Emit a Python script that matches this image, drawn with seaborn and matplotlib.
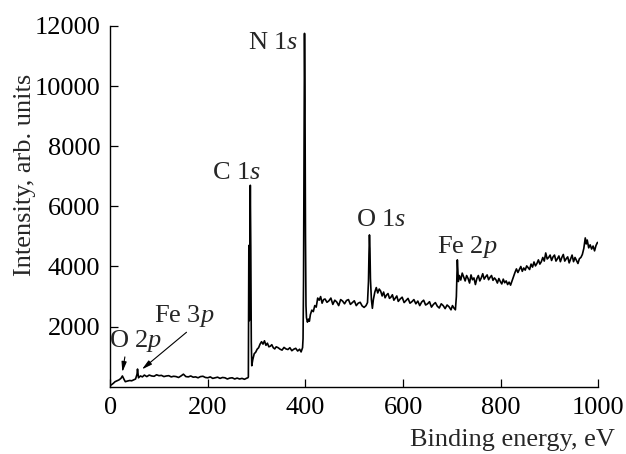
import numpy as np
import pandas as pd
import matplotlib
matplotlib.use("Agg")
import matplotlib.pyplot as plt
import seaborn as sns

# ---- survey XPS spectrum ----
# low binding energy part (valence, Fe 3p, up to the C 1s edge)
be_low = [2, 6, 10, 14, 18, 22, 25, 28, 31, 35, 40, 44, 48, 52, 55, 56, 58, 62, 66, 70,
          75, 80, 85, 90, 95, 100, 105, 110, 115, 120, 125, 130, 135, 140, 145, 150, 155,
          160, 165, 170, 175, 180, 185, 190, 195, 200, 205, 210, 215, 220, 225, 230, 235,
          240, 245, 250, 255, 260, 265, 270, 275, 280, 282]
int_low = [60, 110, 170, 200, 230, 280, 360, 260, 170, 190, 210, 200, 230, 260, 420, 590, 300, 360, 330, 390,
           340, 390, 360, 350, 400, 370, 380, 340, 360, 370, 330, 350, 340, 310, 360, 420, 340,
           330, 360, 320, 330, 300, 340, 350, 310, 300, 330, 280, 300, 320, 280, 310, 300,
           260, 290, 300, 260, 290, 260, 280, 250, 290, 300]

# C 1s and N 1s region
be_mid = [283, 284, 285, 286, 287, 288, 289, 290, 292, 295, 298, 301, 304, 307, 310, 313, 316, 319,
          322, 325, 328, 331, 334, 337, 340, 344, 348, 352, 356, 360, 364, 368, 372, 376, 380,
          384, 388, 391, 394, 395, 396, 397, 398, 399, 400, 401, 402, 404, 406, 408, 410, 413,
          416, 419, 422, 425, 428, 431, 434, 437, 440, 444, 448, 452, 456, 460, 464, 468, 472,
          476, 480, 484, 488, 492, 496, 500, 504, 508, 512, 516, 520, 524]
int_mid = [330, 4700, 2200, 4650, 6700, 4600, 1500, 700, 900, 1100, 1150, 1250, 1300, 1420, 1500, 1420, 1530, 1380,
           1450, 1330, 1350, 1400, 1300, 1260, 1330, 1300, 1250, 1220, 1310, 1260, 1240, 1300, 1200, 1250, 1280,
           1190, 1250, 1160, 1300, 1600, 3500, 8000, 11750, 9500, 5000, 2700, 2300, 2150, 2250, 2180, 2400, 2550,
           2500, 2700, 2650, 2950, 2880, 3000, 2780, 2900, 2920, 2810, 2860, 2950, 2740, 2880, 2820, 2700, 2900,
           2850, 2760, 2870, 2900, 2740, 2800, 2860, 2700, 2780, 2810, 2690, 2640, 2700]

# O 1s region
be_o1s = [527, 529, 530, 531, 532, 533, 535, 537, 539, 542, 545, 548, 551, 554, 557, 560, 563, 566,
          569, 572, 575, 578, 581, 584, 587, 590, 594, 598, 602, 606, 610, 614, 618, 622, 626,
          630, 634, 638, 642, 646, 650, 654, 658, 662, 666, 670, 674, 678, 682, 686, 690, 694,
          698, 701, 704, 707]
int_o1s = [2800, 3500, 4400, 5050, 4600, 3600, 2900, 2610, 2900, 3150, 3300, 3120, 3250, 3180, 3020, 3150, 2960, 3050,
           3100, 2940, 2980, 3060, 2880, 2950, 3020, 2840, 2920, 2980, 2800, 2870, 2940, 2780, 2830, 2900, 2760,
           2850, 2700, 2820, 2880, 2720, 2760, 2830, 2650, 2740, 2800, 2680, 2620, 2760, 2700, 2600, 2720, 2660,
           2560, 2700, 2620, 2560]

# Fe 2p region up to 1000 eV
be_high = [709, 710, 711, 712, 713, 715, 718, 721, 724, 727, 730, 733, 736, 739, 742, 745, 748, 751,
           754, 757, 760, 763, 766, 769, 772, 775, 778, 781, 784, 787, 790, 793, 796, 799, 802,
           805, 808, 811, 814, 817, 820, 823, 826, 829, 832, 835, 838, 841, 844, 847, 850, 853,
           856, 859, 862, 865, 868, 871, 874, 877, 880, 883, 886, 889, 892, 895, 898, 901, 904,
           907, 910, 913, 916, 919, 922, 925, 928, 931, 934, 937, 940, 943, 946, 949, 952, 955,
           958, 961, 964, 967, 970, 973, 975, 977, 980, 983, 986, 989, 992, 995, 998]
int_high = [3000, 3600, 4220, 3900, 3500, 3700, 3550, 3780, 3650, 3520, 3700, 3600, 3450, 3720, 3560, 3620, 3400, 3600,
            3700, 3520, 3620, 3760, 3580, 3660, 3720, 3560, 3640, 3700, 3540, 3620, 3560, 3450, 3600, 3500, 3420,
            3580, 3460, 3520, 3400, 3480, 3380, 3520, 3650, 3800, 3920, 3800, 3900, 4000, 3840, 3950, 3880, 4020,
            3960, 3900, 4080, 3980, 4150, 4020, 4100, 4220, 4080, 4160, 4300, 4180, 4450, 4250, 4300, 4380, 4200,
            4320, 4380, 4180, 4260, 4350, 4160, 4300, 4400, 4180, 4260, 4320, 4120, 4250, 4380, 4160, 4300, 4200,
            4100, 4260, 4300, 4400, 4600, 4950, 4750, 4880, 4620, 4720, 4580, 4680, 4520, 4700, 4800]

df = pd.DataFrame({
    "energy": be_low + be_mid + be_o1s + be_high,
    "intensity": int_low + int_mid + int_o1s + int_high,
})

# ---- style ----
sns.set_theme(style="ticks")
plt.rcParams["font.family"] = ["Liberation Serif", "DejaVu Serif"]
plt.rcParams["mathtext.fontset"] = "custom"
plt.rcParams["mathtext.rm"] = "Liberation Serif"
plt.rcParams["mathtext.it"] = "Liberation Serif:italic"

fig = plt.figure(figsize=(6.26, 4.54), dpi=100)
ax = fig.add_axes([0.176, 0.148, 0.780, 0.795])

sns.lineplot(data=df, x="energy", y="intensity", ax=ax, color="black",
             linewidth=1.2, estimator=None)

ax.set_xlim(0, 1000)
ax.set_ylim(0, 12000)
ax.set_xticks([0, 200, 400, 600, 800, 1000])
ax.set_yticks([2000, 4000, 6000, 8000, 10000, 12000])
ax.tick_params(direction="in", length=6, width=0.9, labelsize=19, pad=7, colors="black")
for side in ["top", "right"]:
    ax.spines[side].set_visible(False)
for side in ["left", "bottom"]:
    ax.spines[side].set_linewidth(1.0)
    ax.spines[side].set_color("black")

ax.set_xlabel("Binding energy, eV", fontsize=19, loc="right")
ax.xaxis.set_label_coords(1.034, -0.118)
ax.set_ylabel("Intensity, arb. units", fontsize=19)
ax.yaxis.set_label_coords(-0.152, 0.587)

# peak labels
fs = 19
ax.text(385, 11430, r"N 1$\it{s}$", fontsize=fs, ha="right", va="center")
ax.text(258, 7120, r"C 1$\it{s}$", fontsize=fs, ha="center", va="center")
ax.text(555, 5550, r"O 1$\it{s}$", fontsize=fs, ha="center", va="center")
ax.text(732, 4660, r"Fe 2$\it{p}$", fontsize=fs, ha="center", va="center")

arrow = dict(arrowstyle="-|>,head_length=0.6,head_width=0.15", color="black",
             lw=0.8, shrinkA=0, shrinkB=0, mutation_scale=10)
ax.annotate(r"Fe 3$\it{p}$", xy=(65, 580), xytext=(152, 2355), fontsize=fs,
            ha="center", va="center", arrowprops=dict(arrow, relpos=(0.6, 0.0)))
ax.annotate(r"O 2$\it{p}$", xy=(25, 490), xytext=(53, 1535), fontsize=fs,
            ha="center", va="center", arrowprops=dict(arrow, relpos=(0.3, 0.0)))

fig.savefig("out.png", dpi=100)
